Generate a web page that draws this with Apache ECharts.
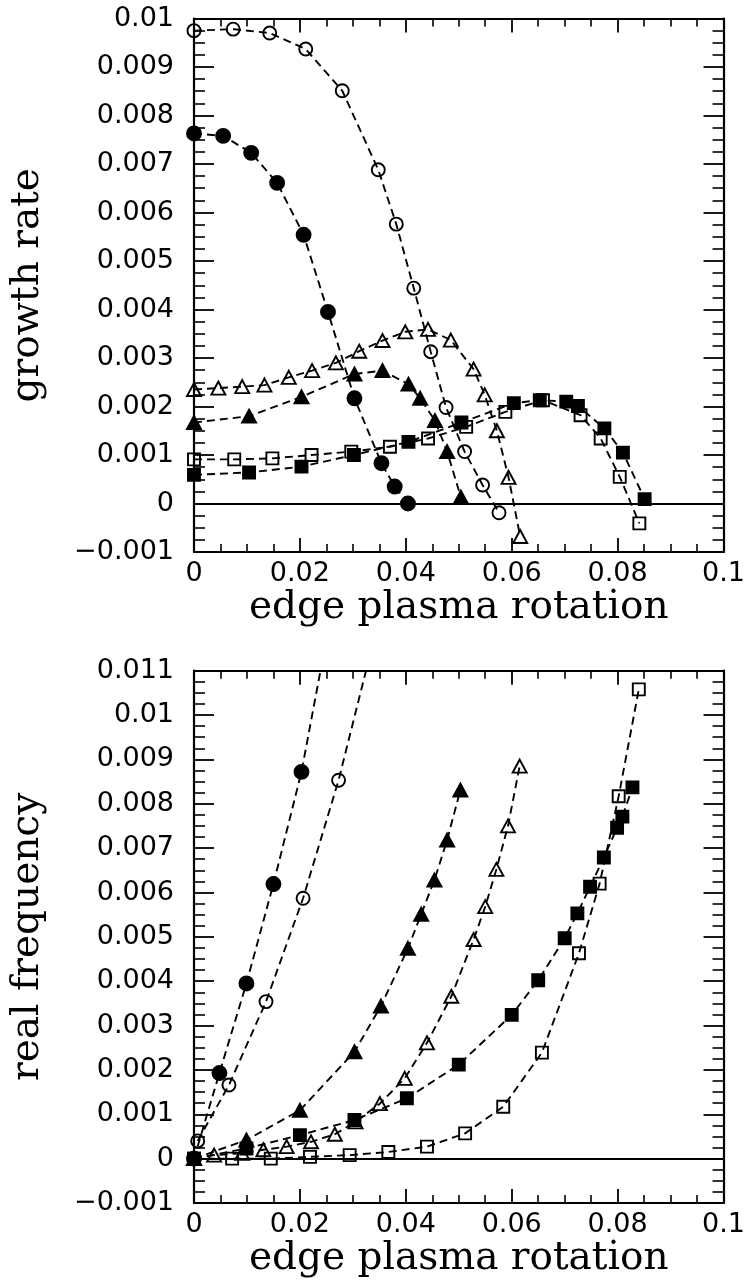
<!DOCTYPE html>
<html>
<head>
<meta charset="utf-8">
<script src="https://cdn.jsdelivr.net/npm/echarts@6/dist/echarts.min.js"></script>
<style>
html,body{margin:0;padding:0;background:#fff;}
#chart{width:748px;height:1287px;}
</style>
</head>
<body>
<div id="chart"></div>
<script>
// ---------- axis ticks ----------
const xTicks = [0, 0.02, 0.04, 0.06, 0.08, 0.1];
const growthTicks = [-0.001, 0, 0.001, 0.002, 0.003, 0.004, 0.005, 0.006, 0.007, 0.008, 0.009, 0.01];
const freqTicks = [-0.001, 0, 0.001, 0.002, 0.003, 0.004, 0.005, 0.006, 0.007, 0.008, 0.009, 0.01, 0.011];

// ---------- top panel: growth rate ----------
const gOpenCircleX = [0, 0.0074, 0.0143, 0.0211, 0.0280, 0.0348, 0.0382, 0.0415, 0.0447, 0.0476, 0.0511, 0.0545, 0.0576];
const gOpenCircleY = [0.00975, 0.00978, 0.00970, 0.00937, 0.00851, 0.00688, 0.00576, 0.00444, 0.00313, 0.00198, 0.00107, 0.00038, -0.00019];

const gFillCircleX = [0, 0.0055, 0.0108, 0.0157, 0.0207, 0.0253, 0.0303, 0.0354, 0.0379, 0.0404];
const gFillCircleY = [0.00763, 0.00758, 0.00723, 0.00661, 0.00554, 0.00395, 0.00217, 0.00083, 0.00035, 0.0];

const gOpenTriX = [0, 0.0046, 0.0091, 0.0133, 0.0179, 0.0223, 0.0268, 0.0312, 0.0356, 0.0399, 0.0442, 0.0485, 0.0528, 0.0549, 0.0572, 0.0594, 0.0616];
const gOpenTriY = [0.00235, 0.00238, 0.00241, 0.00244, 0.0026, 0.00274, 0.0029, 0.00314, 0.00336, 0.00354, 0.00359, 0.00337, 0.00277, 0.00224, 0.0015, 0.00054, -0.00068];

const gFillTriX = [0, 0.0104, 0.0203, 0.0303, 0.0356, 0.0405, 0.0427, 0.0455, 0.0478, 0.0504];
const gFillTriY = [0.00167, 0.0018, 0.0022, 0.00267, 0.00274, 0.00246, 0.00217, 0.00171, 0.00107, 0.00013];

const gOpenSqX = [0, 0.0076, 0.0148, 0.0222, 0.0297, 0.0370, 0.0442, 0.0514, 0.0588, 0.0659, 0.0730, 0.0768, 0.0804, 0.0841];
const gOpenSqY = [0.00091, 0.00091, 0.00093, 0.0010, 0.00107, 0.00117, 0.00134, 0.00158, 0.00189, 0.00213, 0.00182, 0.00134, 0.00055, -0.00041];

const gFillSqX = [0, 0.0104, 0.0203, 0.0302, 0.0405, 0.0505, 0.0604, 0.0653, 0.0703, 0.0725, 0.0775, 0.0810, 0.0851];
const gFillSqY = [0.00059, 0.00064, 0.00076, 0.0010, 0.00127, 0.00167, 0.00207, 0.00213, 0.0021, 0.00201, 0.00155, 0.00105, 0.00009];

// ---------- bottom panel: real frequency ----------
const fFillCircleX = [0, 0.0048, 0.0099, 0.0150, 0.0203, 0.0253];
const fFillCircleY = [0, 0.00193, 0.00395, 0.00619, 0.00872, 0.0119];

const fOpenCircleX = [0.0007, 0.0066, 0.0136, 0.0206, 0.0273, 0.0348];
const fOpenCircleY = [0.0004, 0.00166, 0.00354, 0.00587, 0.00853, 0.0121];

const fFillTriX = [0, 0.0099, 0.0200, 0.0303, 0.0353, 0.0404, 0.0429, 0.0454, 0.0478, 0.0503];
const fFillTriY = [0, 0.00042, 0.00109, 0.00241, 0.00344, 0.00474, 0.00551, 0.00628, 0.00718, 0.00831];

const fOpenTriX = [0, 0.0038, 0.0091, 0.0131, 0.0175, 0.0221, 0.0266, 0.0305, 0.0351, 0.0398, 0.0440, 0.0486, 0.0528, 0.0550, 0.0571, 0.0593, 0.0615];
const fOpenTriY = [0, 0.00008, 0.00012, 0.0002, 0.00027, 0.00038, 0.00055, 0.00083, 0.00124, 0.00181, 0.00261, 0.00366, 0.00494, 0.00568, 0.00652, 0.0075, 0.00885];

const fOpenSqX = [0, 0.0072, 0.0145, 0.0219, 0.0294, 0.0367, 0.0440, 0.0512, 0.0584, 0.0657, 0.0727, 0.0766, 0.0802, 0.0840];
const fOpenSqY = [0, 0, 0, 0.00004, 0.00008, 0.00015, 0.00027, 0.00057, 0.00117, 0.00239, 0.00463, 0.0062, 0.00817, 0.01058];

const fFillSqX = [0, 0.0099, 0.0200, 0.0303, 0.0402, 0.0500, 0.0600, 0.0650, 0.0700, 0.0724, 0.0748, 0.0774, 0.0799, 0.0809, 0.0828];
const fFillSqY = [0, 0.00023, 0.00053, 0.00087, 0.00136, 0.00212, 0.00324, 0.00402, 0.00497, 0.00553, 0.00613, 0.00679, 0.00746, 0.00771, 0.00837];

// ---------- build ----------
const zip = (xs, ys) => xs.map((x, i) => [x, ys[i]]);
const fmt = (v, d) => {
  let s = Math.abs(v).toFixed(d).replace(/0+$/, '').replace(/\.$/, '');
  return v < -1e-12 ? '\u2212' + s : s;
};
const TICK_FONT = 'DejaVu Sans';
const TITLE_FONT = 'DejaVu Serif';

function xAxes(gi, ticks) {
  const step = ticks[1] - ticks[0];
  const base = {
    type: 'value', gridIndex: gi, min: ticks[0], max: ticks[ticks.length - 1], interval: step,
    axisLine: {show: true, onZero: false, lineStyle: {color: '#000', width: 2.2}},
    axisTick: {show: true, inside: true, length: 14, lineStyle: {color: '#000', width: 1.8}},
    minorTick: {show: true, splitNumber: 4, length: 8, lineStyle: {color: '#000', width: 1.6}},
    splitLine: {show: false}, minorSplitLine: {show: false}
  };
  return [
    Object.assign({}, base, {
      position: 'bottom',
      axisLabel: {show: true, margin: 8, color: '#000', fontFamily: TICK_FONT, fontSize: 27,
        formatter: v => fmt(v, 2)},
      name: 'edge plasma rotation', nameLocation: 'middle', nameGap: 36,
      nameTextStyle: {fontFamily: TITLE_FONT, fontSize: 39, color: '#000'}
    }),
    Object.assign({}, base, {position: 'top', axisLabel: {show: false}})
  ];
}
function yAxes(gi, ticks, title) {
  const step = 0.001;
  const base = {
    type: 'value', gridIndex: gi, min: ticks[0], max: ticks[ticks.length - 1], interval: step,
    axisLine: {show: true, onZero: false, lineStyle: {color: '#000', width: 2.2}},
    axisTick: {show: true, inside: true, length: 20, lineStyle: {color: '#000', width: 1.8}},
    minorTick: {show: true, splitNumber: 4, length: 11, lineStyle: {color: '#000', width: 1.6}},
    splitLine: {show: false}, minorSplitLine: {show: false}
  };
  return [
    Object.assign({}, base, {
      position: 'left',
      axisLabel: {show: true, margin: 20, color: '#000', fontFamily: TICK_FONT, fontSize: 27,
        formatter: v => fmt(v, 3)},
      name: title, nameLocation: 'middle', nameGap: 147,
      nameTextStyle: {fontFamily: TITLE_FONT, fontSize: 39, color: '#000'}
    }),
    Object.assign({}, base, {position: 'right', axisLabel: {show: false}})
  ];
}

const SYM = {
  openCircle:  {symbol: 'circle',   size: 13, fill: 'transparent'},
  fillCircle:  {symbol: 'circle',   size: 14, fill: '#000'},
  openTri:     {symbol: 'triangle', size: [14, 13], fill: 'transparent'},
  fillTri:     {symbol: 'triangle', size: [14, 13], fill: '#000'},
  openSq:      {symbol: 'rect',     size: 12, fill: 'transparent'},
  fillSq:      {symbol: 'rect',     size: 12, fill: '#000'}
};
function line(gi, kind, xs, ys) {
  const s = SYM[kind];
  return {
    type: 'line', xAxisIndex: gi * 2, yAxisIndex: gi * 2,
    data: zip(xs, ys), clip: true, smooth: false,
    symbol: s.symbol, symbolSize: s.size, showAllSymbol: true,
    itemStyle: {color: s.fill, borderColor: '#000', borderWidth: 1.9},
    lineStyle: {color: '#000', width: 1.9, type: [8, 5]},
    emphasis: {disabled: true}, z: 3
  };
}
function zeroLine(gi) {
  return {
    type: 'line', xAxisIndex: gi * 2, yAxisIndex: gi * 2, data: [], silent: true,
    markLine: {silent: true, symbol: 'none', label: {show: false},
      lineStyle: {type: 'solid', color: '#000', width: 2}, data: [{yAxis: 0}]},
    z: 2
  };
}

const option = {
  backgroundColor: '#fff',
  animation: false,
  grid: [
    {left: 187, top: 18.5, width: 538, height: 533.5},
    {left: 186, top: 670.7, width: 538, height: 532.3}
  ],
  xAxis: [].concat(xAxes(0, xTicks), xAxes(1, xTicks)),
  yAxis: [].concat(yAxes(0, growthTicks, 'growth rate'), yAxes(1, freqTicks, 'real frequency')),
  series: [
    zeroLine(0),
    line(0, 'openCircle', gOpenCircleX, gOpenCircleY),
    line(0, 'fillCircle', gFillCircleX, gFillCircleY),
    line(0, 'openTri', gOpenTriX, gOpenTriY),
    line(0, 'fillTri', gFillTriX, gFillTriY),
    line(0, 'openSq', gOpenSqX, gOpenSqY),
    line(0, 'fillSq', gFillSqX, gFillSqY),
    zeroLine(1),
    line(1, 'fillCircle', fFillCircleX, fFillCircleY),
    line(1, 'openCircle', fOpenCircleX, fOpenCircleY),
    line(1, 'fillTri', fFillTriX, fFillTriY),
    line(1, 'openTri', fOpenTriX, fOpenTriY),
    line(1, 'openSq', fOpenSqX, fOpenSqY),
    line(1, 'fillSq', fFillSqX, fFillSqY)
  ]
};
const chart = echarts.init(document.getElementById('chart'), null, {renderer: 'canvas'});
chart.setOption(option);
</script>
</body>
</html>
